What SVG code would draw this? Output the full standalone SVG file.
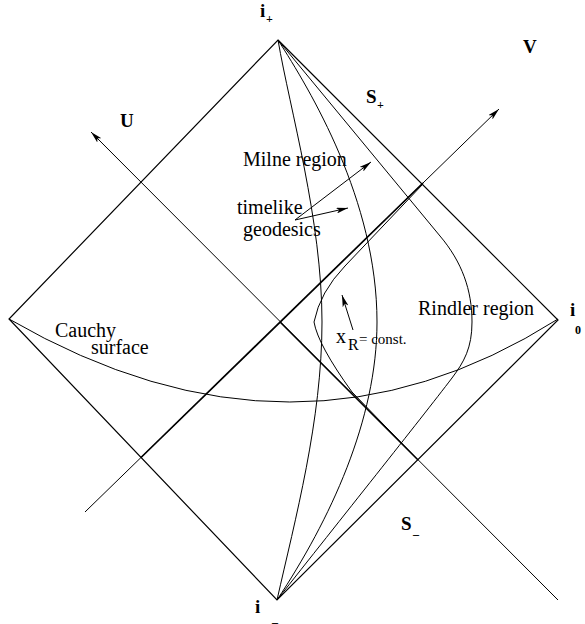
<svg xmlns="http://www.w3.org/2000/svg" width="585" height="624" viewBox="0 0 585 624">
<style>
.ln{fill:none;stroke:#000;stroke-width:1.2}
.thin{fill:none;stroke:#000;stroke-width:1}
.thick{fill:none;stroke:#000;stroke-width:1.7}
.lab{font-family:"Liberation Serif","Times New Roman",serif;font-size:20px;fill:#000}
.bold{font-family:"Liberation Serif","Times New Roman",serif;font-size:19px;font-weight:bold;fill:#000}
.sub{font-family:"Liberation Serif","Times New Roman",serif;font-size:12px;font-weight:bold;fill:#000}
</style>
<defs>
<marker id="arr" viewBox="0 0 12 6" refX="12" refY="3" markerWidth="12" markerHeight="6" markerUnits="userSpaceOnUse" orient="auto">
<path d="M0,0 L12,3 L0,6 L3,3 Z" fill="#000"/>
</marker>
</defs>
<rect width="585" height="624" fill="#fff"/>
<g id="connectors">
<path id="diamond" class="ln" d="M278,40 L558,320 L277,600 L9,319 Z"/>
<line id="U-axis" class="thin" x1="558" y1="600" x2="91" y2="132" marker-end="url(#arr)"/>
<line id="U-horizon" class="ln" x1="280" y1="322" x2="418" y2="460" style="stroke-width:1.4"/>
<line id="V-axis" class="thin" x1="85" y1="512" x2="499" y2="109" marker-end="url(#arr)"/>
<line id="V-horizon" class="thick" x1="141" y1="457.5" x2="423" y2="183"/>
<path id="cauchy" class="thin" d="M9,319 Q296,485 558,319"/>
<path id="geo-A" class="thin" d="M278,40 C290,110 322,220 322,322 C322,420 295,520 277,600"/>
<path id="geo-B" class="thin" d="M278,40 C310,90 377,200 377,322 C377,420 330,520 277,600"/>
<path id="geo-C" class="thin" d="M278,40 L440,236 C462,262 472,290 472,322 C472,348 464,362 452,378 C420,420 340,520 277,600"/>
<path id="xR-curve" class="thin" d="M423,184 L345,266 Q320,292 314,322 Q318,345 352,392 L418,460"/>
<line class="thin" x1="295" y1="220" x2="371" y2="162" marker-end="url(#arr)"/>
<line class="thin" x1="295" y1="220" x2="348" y2="208" marker-end="url(#arr)"/>
<line class="thin" x1="353" y1="330" x2="342" y2="295" marker-end="url(#arr)"/>
</g>
<g id="i-plus"><text class="bold" x="260" y="17">i</text><text class="sub" x="266" y="23">+</text></g>
<g id="S-plus"><text class="bold" x="366" y="103">S</text><text class="sub" x="377" y="109">+</text></g>
<g id="U-label"><text class="bold" x="120" y="127">U</text></g>
<g id="V-label"><text class="bold" x="523" y="53">V</text></g>
<g id="milne"><text class="lab" x="243" y="166">Milne region</text></g>
<g id="timelike"><text class="lab" x="237" y="214">timelike</text><text class="lab" x="243" y="236">geodesics</text></g>
<g id="rindler"><text class="lab" x="418" y="315">Rindler region</text></g>
<g id="i-zero"><text class="bold" x="570" y="316">i</text><text class="sub" x="575" y="334">0</text></g>
<g id="cauchy-label"><text class="lab" x="55" y="337">Cauchy</text><text class="lab" x="91" y="354">surface</text></g>
<g id="xR-label"><text class="lab" x="336" y="343">x</text><text class="lab" x="348" y="350" style="font-size:16px">R</text><text class="lab" x="359" y="344" style="font-size:15px">= const.</text></g>
<g id="S-minus"><text class="bold" x="401" y="530">S</text><text class="sub" x="413" y="534">_</text></g>
<g id="i-minus"><text class="bold" x="255" y="613">i</text><text class="sub" x="272" y="622">_</text></g>
</svg>
